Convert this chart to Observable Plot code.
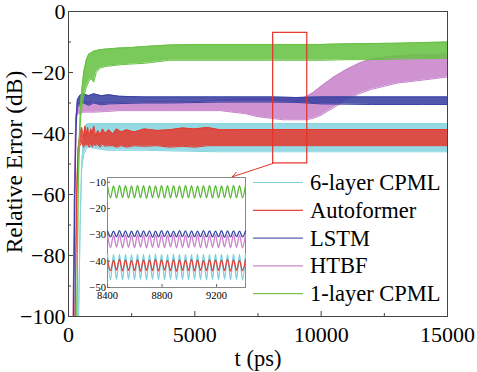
<!DOCTYPE html>
<html><head><meta charset="utf-8">
<script src="https://cdn.jsdelivr.net/npm/d3@7"></script>
<script src="https://cdn.jsdelivr.net/npm/@observablehq/plot@0.6"></script>
<style>
body{margin:0;background:#fff;}
#wrap{position:relative;width:477px;height:372px;font-family:'Liberation Serif','Times New Roman',serif;}
#wrap svg{position:absolute;overflow:visible;}
#wrap svg text{font-family:'Liberation Serif','Times New Roman',serif !important;}
</style></head><body><div id="wrap"></div>
<script>
// ---------- data ----------
const seriesNames = ["6-layer CPML", "Autoformer", "LSTM", "HTBF", "1-layer CPML"];
const seriesColors = ["#86d4e0", "#e53a2f", "#3a42a2", "#c884cc", "#68c144"];

const greenT  = [330, 380, 430, 500, 600, 700, 800, 900, 1000, 1100, 1250, 1500, 2000, 2500, 3000, 3500, 4000, 5000, 6000, 7000, 8000, 9000, 10000, 11000, 12000, 13000, 14000, 15000];
const greenHi = [-100, -60, -40, -28, -20, -16, -14, -13.5, -13, -12.8, -12.5, -12.3, -12, -11.8, -11.5, -11.2, -11, -10.8, -10.8, -10.8, -10.8, -10.8, -10.8, -10.6, -10.5, -10.4, -10.2, -10];
const greenLo = [-100, -60, -42, -33, -28, -25, -23, -22, -23.2, -20, -18.5, -18, -17.5, -17.2, -17, -16.5, -16, -16, -16, -16, -16, -16, -16, -15.8, -15.8, -15.6, -15.5, -15.3];

const blueT  = [200, 250, 300, 350, 450, 600, 800, 1000, 1300, 1600, 2000, 3000, 4000, 6000, 8000, 9000, 10000, 12000, 14000, 15000];
const blueHi = [-100, -60, -35, -29, -27.5, -27, -27.6, -27, -27.6, -27.3, -27.8, -28, -28, -28, -28, -28.2, -28, -28, -28, -28];
const blueLo = [-100, -60, -38, -31.5, -30.5, -30, -30.8, -30, -30.6, -30.3, -30.2, -30, -30, -29.7, -29.7, -29.8, -30.3, -30.5, -30.5, -30.5];

const purpleT  = [180, 230, 270, 320, 400, 600, 800, 1000, 1500, 2000, 3000, 4000, 5000, 6000, 7000, 7500, 8000, 8500, 9000, 9400, 9700, 10000, 10500, 11000, 11500, 12000, 12500, 13000, 14000, 15000];
const purpleHi = [-100, -60, -40, -32, -30, -29.5, -29.5, -29.8, -30, -29.8, -29.7, -29.5, -29.5, -29, -28.5, -28.5, -28.5, -28.7, -28.7, -28, -26.5, -24.5, -21.5, -19, -17, -15.5, -15, -14.5, -14.2, -14];
const purpleLo = [-100, -60, -42, -34, -33.5, -33, -33, -33, -32.8, -32.5, -32.5, -32.5, -32.5, -32.5, -33.5, -34.5, -35, -35.5, -35.5, -35.5, -35, -34, -31.5, -29, -27, -25.5, -24.5, -23.5, -22.5, -21.5];

const cyanT  = [400, 460, 520, 600, 700, 800, 1000, 1500, 2000, 3000, 4000, 6000, 8000, 10000, 12000, 14000, 15000];
const cyanHi = [-100, -70, -50, -42, -37, -36.8, -36.8, -36.8, -36.8, -36.8, -36.8, -36.8, -36.8, -36.8, -36.8, -36.8, -36.8];
const cyanLo = [-100, -70, -52, -47, -45, -44.5, -44.8, -45.5, -45.5, -45.5, -45.7, -46, -46, -46, -46, -46, -46];

const redT  = [260, 320, 380, 450, 520, 600, 650, 700, 760, 820, 880, 940, 1000, 1080, 1160, 1250, 1350, 1450, 1600, 1750, 1900, 2100, 2300, 2600, 3000, 3500, 4000, 4500, 5000, 5500, 6000, 7000, 8000, 9000, 10000, 11000, 12000, 13000, 14000, 15000];
const redHi = [-100, -60, -45, -40, -38, -41, -37.5, -40.5, -38, -41.5, -38.5, -40, -37.5, -41, -39, -40.5, -38.5, -40, -38.8, -40.2, -38.5, -39.5, -38.8, -39.5, -38.5, -39, -38.8, -38.2, -38.5, -38, -38.8, -38.7, -38.7, -38.7, -38.7, -38.7, -38.7, -38.7, -38.7, -38.7];
const redLo = [-100, -62, -48, -44, -43, -44.5, -43, -44, -43.5, -44.5, -43, -44.5, -43.5, -44, -43.5, -44.5, -43.5, -44.2, -44, -44, -44.5, -44, -44.5, -44, -44.2, -44, -44.5, -44.2, -44.5, -44, -44, -44, -44, -44, -44, -44, -44, -44, -44, -44];

// inset (zoomed) samples
const insetT = [8400, 8422, 8444, 8466, 8488, 8510, 8532, 8554, 8576, 8598, 8620, 8642, 8664, 8686, 8708, 8730, 8752, 8774, 8796, 8818, 8840, 8862, 8884, 8906, 8928, 8950, 8972, 8994, 9016, 9038, 9060, 9082, 9104, 9126, 9148, 9170, 9192, 9214, 9236, 9258, 9280, 9302, 9324, 9346, 9368, 9390, 9412];
const insetGreen  = [-11.3,-15.9,-11.4,-16.0,-11.2,-15.8,-11.3,-16.0,-11.4,-15.9,-11.2,-15.9,-11.3,-16.1,-11.3,-15.8,-11.4,-15.9,-11.2,-16.0,-11.3,-15.9,-11.3,-15.8,-11.4,-16.0,-11.2,-15.9,-11.3,-16.0,-11.4,-15.8,-11.3,-15.9,-11.2,-16.0,-11.3,-15.9,-11.4,-15.8,-11.3,-16.0,-11.2,-15.9,-11.3,-15.9,-11.3];
const insetBlue   = [-28.5,-30.8,-28.6,-30.7,-28.4,-30.8,-28.5,-30.9,-28.6,-30.7,-28.4,-30.8,-28.5,-30.7,-28.5,-30.9,-28.6,-30.8,-28.4,-30.7,-28.5,-30.8,-28.6,-30.8,-28.4,-30.7,-28.5,-30.9,-28.5,-30.8,-28.6,-30.7,-28.4,-30.8,-28.5,-30.8,-28.6,-30.7,-28.4,-30.9,-28.5,-30.8,-28.5,-30.7,-28.6,-30.8,-28.5];
const insetPurple = [-30.0,-34.8,-30.1,-34.6,-29.9,-34.9,-30.0,-34.7,-30.1,-34.8,-29.9,-34.6,-30.0,-34.9,-30.1,-34.7,-29.9,-34.8,-30.0,-34.8,-30.1,-34.6,-29.9,-34.9,-30.0,-34.7,-30.0,-34.8,-30.1,-34.6,-29.9,-34.8,-30.0,-34.9,-30.1,-34.7,-29.9,-34.8,-30.0,-34.6,-30.1,-34.8,-29.9,-34.7,-30.0,-34.9,-30.0];
const insetCyan   = [-37.4,-47.0,-37.5,-46.8,-37.3,-47.1,-37.4,-46.9,-37.5,-47.0,-37.3,-46.8,-37.4,-47.1,-37.5,-46.9,-37.3,-47.0,-37.4,-47.0,-37.5,-46.8,-37.3,-47.1,-37.4,-46.9,-37.4,-47.0,-37.5,-46.8,-37.3,-47.0,-37.4,-47.1,-37.5,-46.9,-37.3,-47.0,-37.4,-46.8,-37.5,-47.0,-37.3,-46.9,-37.4,-47.1,-37.4];
const insetRed    = [-39.5,-43.6,-39.7,-43.4,-39.3,-43.7,-39.5,-43.5,-39.8,-43.6,-39.4,-43.8,-39.5,-43.5,-39.6,-43.6,-39.3,-43.7,-39.5,-43.4,-39.7,-43.6,-39.4,-43.8,-39.5,-43.5,-39.6,-43.6,-39.3,-43.7,-39.5,-43.5,-39.8,-43.6,-39.4,-43.7,-39.5,-43.5,-39.6,-43.6,-39.3,-43.8,-39.5,-43.5,-39.7,-43.6,-39.5];

// axes / annotation values
const xTicks = [0, 5000, 10000, 15000];
const xMinor = [2500, 7500, 12500];
const yTicks = [0, -20, -40, -60, -80, -100];
const yMinor = [-10, -30, -50, -70, -90];
const zoomBox = {x1: 8100, x2: 9450, y1: -49.8, y2: -7};
const zoomArrow = {x1: 8100, y1: -49.8, x2: 6480, y2: -54.2};
const insetXTicks = [8400, 8800, 9200];
const insetYTicks = [-10, -20, -30, -40, -50];

// ---------- drawing ----------
const FONT = "'Liberation Serif', 'Times New Roman', serif";
const fmt = d => d < 0 ? "\u2212" + Math.abs(d) : String(d);
const [cCyan, cRed, cBlue, cPurple, cGreen] = seriesColors;

function band(t, lo, hi, color) {
  const rows = t.map((x, i) => ({t: x, lo: lo[i], hi: hi[i]}));
  return [
    Plot.areaY(rows, {x: "t", y1: "lo", y2: "hi", fill: color, fillOpacity: 0.88}),
    Plot.lineY(rows, {x: "t", y: "hi", stroke: color, strokeWidth: 1}),
    Plot.lineY(rows, {x: "t", y: "lo", stroke: color, strokeWidth: 1})
  ];
}

const main = Plot.plot({
  width: 477, height: 372,
  marginLeft: 68, marginRight: 30, marginTop: 11, marginBottom: 56,
  style: {fontFamily: FONT, fontSize: "22px", color: "#000", background: "transparent"},
  x: {domain: [0, 15000], label: null},
  y: {domain: [-100, 0], label: null},
  marks: [
    ...band(cyanT, cyanLo, cyanHi, cCyan),
    ...band(redT, redLo, redHi, cRed),
    ...band(purpleT, purpleLo, purpleHi, cPurple),
    ...band(blueT, blueLo, blueHi, cBlue),
    ...band(greenT, greenLo, greenHi, cGreen),
    Plot.rect([zoomBox], {x1: "x1", x2: "x2", y1: "y1", y2: "y2", fill: "none", stroke: "#e5332a", strokeWidth: 1.2}),
    Plot.arrow([zoomArrow], {x1: "x1", y1: "y1", x2: "x2", y2: "y2", stroke: "#e5332a", strokeWidth: 1, headLength: 9}),
    Plot.frame({stroke: "#444", strokeWidth: 1}),
    Plot.axisX(xTicks, {tickSize: -5, tickPadding: 15, tickFormat: fmt, label: null, stroke: "#444"}),
    Plot.axisX(xMinor, {tickSize: -3, tickFormat: () => "", label: null, stroke: "#444"}),
    Plot.axisY(yTicks, {tickSize: -5, tickPadding: 8, tickFormat: fmt, label: null, stroke: "#444"}),
    Plot.axisY(yMinor, {tickSize: -3, tickFormat: () => "", label: null, stroke: "#444"}),
    Plot.text(["t (ps)"], {frameAnchor: "bottom", dy: 42, lineAnchor: "middle", textAnchor: "middle", fontSize: 22.5, fill: "#000"}),
    Plot.text(["Relative Error (dB)"], {frameAnchor: "left", dx: -54, dy: -2, rotate: -90, lineAnchor: "middle", textAnchor: "middle", fontSize: 23.5, fill: "#000"})
  ]
});
main.style.left = "0px"; main.style.top = "0px";
document.getElementById("wrap").appendChild(main);

// inset
const insetLine = (vals, color) =>
  Plot.lineY(insetT.map((t, i) => ({t, v: vals[i]})), {x: "t", y: "v", stroke: color, strokeWidth: 1.3, curve: "monotone-x"});
const inset = Plot.plot({
  width: 163, height: 134,
  marginLeft: 22, marginRight: 3, marginTop: 3, marginBottom: 21,
  style: {fontFamily: FONT, fontSize: "10.5px", color: "#000", background: "transparent"},
  x: {domain: [8400, 9412], label: null},
  y: {domain: [-50, -8.2], label: null},
  marks: [
    Plot.frame({fill: "white", stroke: "#888"}),
    insetLine(insetGreen, "#5cb83a"),
    insetLine(insetPurple, "#cc80cf"),
    insetLine(insetBlue, "#3c46a6"),
    insetLine(insetCyan, "#79d0dc"),
    insetLine(insetRed, "#e0403a"),
    Plot.axisX(insetXTicks, {tickSize: -3, tickPadding: 7.5, tickFormat: String, label: null, stroke: "#666"}),
    Plot.axisY(insetYTicks, {tickSize: -3, tickPadding: 4.5, tickFormat: fmt, label: null, stroke: "#666"})
  ]
});
inset.style.left = "85px"; inset.style.top = "173.5px";
document.getElementById("wrap").appendChild(inset);

// legend
const ns = "http://www.w3.org/2000/svg";
const leg = document.createElementNS(ns, "svg");
leg.setAttribute("width", 477); leg.setAttribute("height", 372);
leg.style.left = "0px"; leg.style.top = "0px";
const legColors = ["#7fd0dc", "#e5453a", "#5a5fb0", "#c98ccd", "#7cc65a"];
seriesNames.forEach((name, i) => {
  const base = 190 + i * 27.8;
  const ln = document.createElementNS(ns, "line");
  ln.setAttribute("x1", 253); ln.setAttribute("x2", 303);
  ln.setAttribute("y1", base - 7.5); ln.setAttribute("y2", base - 7.5);
  ln.setAttribute("stroke", legColors[i]); ln.setAttribute("stroke-width", 1.2);
  leg.appendChild(ln);
  const tx = document.createElementNS(ns, "text");
  tx.setAttribute("x", 310); tx.setAttribute("y", base);
  tx.setAttribute("font-size", 22.5);
  tx.setAttribute("fill", "#000");
  tx.textContent = name;
  leg.appendChild(tx);
});
document.getElementById("wrap").appendChild(leg);
</script></body></html>
